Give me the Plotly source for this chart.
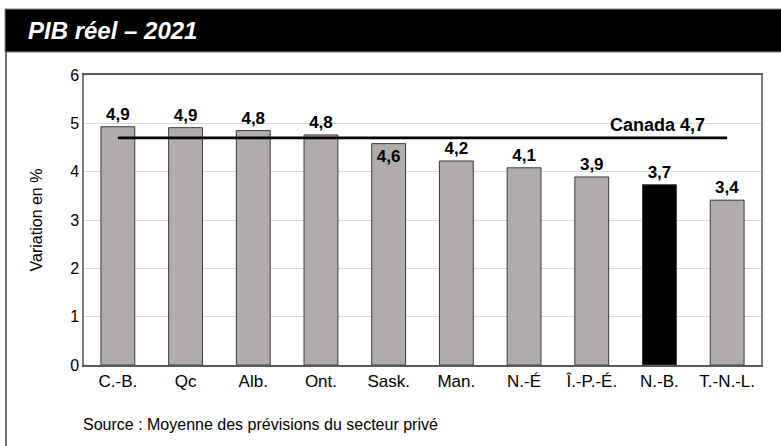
import plotly.graph_objects as go

categories = ["C.-B.", "Qc", "Alb.", "Ont.", "Sask.", "Man.", "N.-É", "Î.-P.-É.", "N.-B.", "T.-N.-L."]
values = [4.93, 4.91, 4.85, 4.76, 4.58, 4.22, 4.08, 3.89, 3.73, 3.41]
value_labels = ["4,9", "4,9", "4,8", "4,8", "4,6", "4,2", "4,1", "3,9", "3,7", "3,4"]
highlight = "N.-B."
canada_value = 4.7
canada_label = "Canada 4,7"
y_ticks = [0, 1, 2, 3, 4, 5, 6]
title_text = "PIB réel – 2021"
y_title = "Variation en %"
source_text = "Source : Moyenne des prévisions du secteur privé"

W, H = 781, 446
L, R, T, B = 84, 20, 75, 81
pw, ph = W - L - R, H - T - B

def px(x):
    return (x - L) / pw

def py(y):
    return (H - B - y) / ph

FONT = "Liberation Sans, Arial, sans-serif"

bar_colors = ["#000000" if c == highlight else "#b0acab" for c in categories]
text_pos = ["inside" if canada_value - 0.3 < v < canada_value else "outside" for v in values]

fig = go.Figure()
fig.add_trace(go.Bar(
    x=categories, y=values, width=0.5,
    marker=dict(color=bar_colors, line=dict(color="#3a3a3a", width=1)),
    text=value_labels, textposition=text_pos, insidetextanchor="end",
    textfont=dict(family=FONT, size=17, color="#000000"),
    outsidetextfont=dict(family=FONT, size=17, color="#000000"),
    insidetextfont=dict(family=FONT, size=17, color="#000000"),
    texttemplate="<b>%{text}</b>", cliponaxis=False,
    hoverinfo="skip",
))
fig.add_trace(go.Scatter(
    x=[categories[0], categories[-1]], y=[canada_value, canada_value],
    mode="lines", line=dict(color="#000000", width=2.7), hoverinfo="skip",
))
fig.add_annotation(
    x=categories[-1], y=canada_value, xref="x", yref="y",
    text="<b>" + canada_label + "</b>", showarrow=False,
    xanchor="right", yanchor="bottom", xshift=-20, yshift=1,
    font=dict(family=FONT, size=18, color="#000000"),
)

# header band
fig.add_shape(type="rect", xref="paper", yref="paper",
              x0=px(5), x1=px(790), y0=py(52), y1=py(9),
              fillcolor="#000000", line=dict(color="#7f7f7f", width=1), layer="below")
# left border
fig.add_shape(type="line", xref="paper", yref="paper",
              x0=px(6), x1=px(6), y0=py(52), y1=py(450),
              line=dict(color="#404040", width=1.5))
fig.add_annotation(x=px(26), y=py(31), xref="paper", yref="paper",
                   text="<b><i>" + title_text + "</i></b>", showarrow=False,
                   xanchor="left", yanchor="middle",
                   font=dict(family=FONT, size=24, color="#ffffff"))
fig.add_annotation(x=px(81), y=py(424), xref="paper", yref="paper",
                   text=source_text, showarrow=False,
                   xanchor="left", yanchor="middle",
                   font=dict(family=FONT, size=16, color="#000000"))

fig.update_layout(
    width=W, height=H, autosize=False,
    margin=dict(l=L, r=R, t=T, b=B),
    paper_bgcolor="#ffffff", plot_bgcolor="#ffffff",
    showlegend=False, bargap=0.5,
    font=dict(family=FONT, color="#000000"),
)
fig.update_xaxes(
    showline=True, linecolor="#595959", linewidth=1.5, mirror=True,
    ticks="", tickfont=dict(family=FONT, size=17, color="#000000"),
    showgrid=False,
)
fig.update_yaxes(
    range=[0, 6], tickvals=y_ticks, showgrid=True, gridcolor="#d9d9d9", gridwidth=1,
    showline=True, linecolor="#808080", linewidth=1.5, mirror=True,
    ticks="", ticklen=0, tickfont=dict(family=FONT, size=16, color="#000000"),
    title=dict(text=y_title, font=dict(family=FONT, size=16, color="#000000"), standoff=24),
    zeroline=False,
)

fig.write_html("out.html", config={"displayModeBar": False},
               post_script="document.body.style.margin='0';document.body.style.overflow='hidden';")
